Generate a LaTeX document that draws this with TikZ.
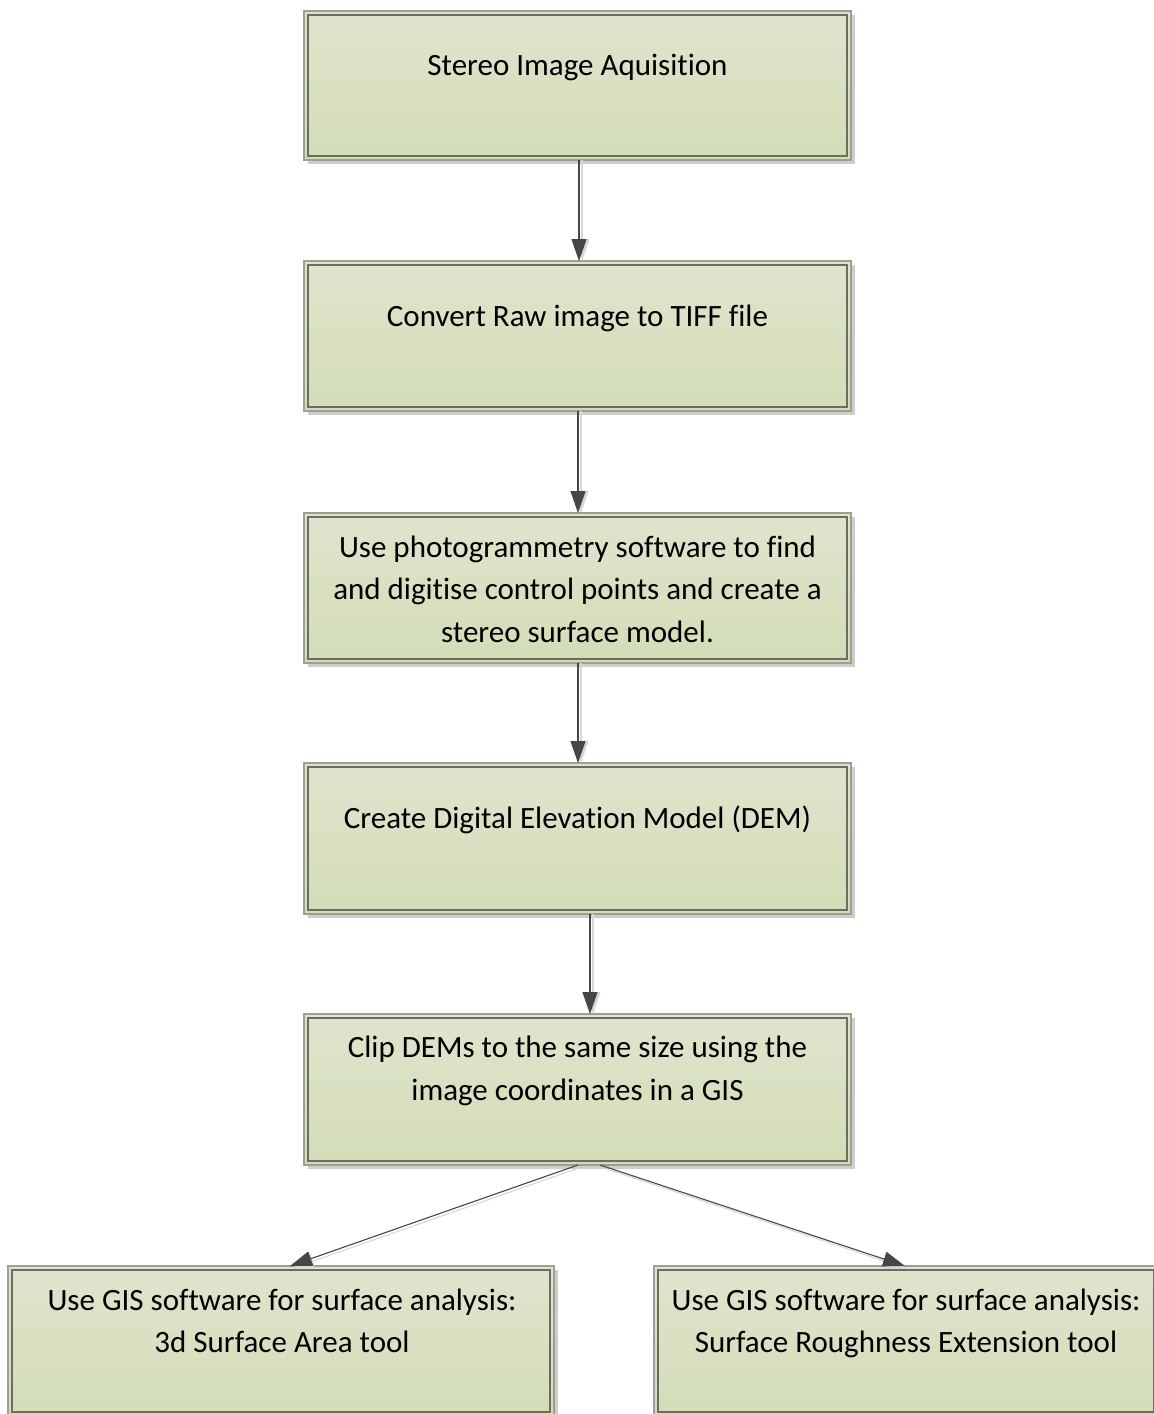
\documentclass[tikz,border=0pt]{standalone}
\usepackage{fontspec}
\setmainfont[Ligatures={NoCommon,NoRare,NoContextual}]{Carlito}
\usetikzlibrary{arrows.meta,shadows}

\definecolor{fillTop}{RGB}{223,229,205}
\definecolor{fillBot}{RGB}{211,220,183}
\definecolor{boxedge}{RGB}{155,160,145}
\definecolor{inneredge}{RGB}{105,110,98}
\definecolor{shadowgrey}{RGB}{205,205,205}
\definecolor{arrowdark}{RGB}{70,70,70}
\definecolor{arrowlight}{RGB}{215,215,215}

\tikzset{
  stepbox/.style={draw=boxedge, line width=1.2pt,
    top color=fillTop, bottom color=fillBot,
    minimum width=547pt, minimum height=150pt,
    inner sep=0pt, outer sep=0pt,
    drop shadow={shadow xshift=4pt, shadow yshift=-4pt,
      fill=shadowgrey, opacity=1}},
  innerline/.style={draw=inneredge, line width=1.1pt},
  steptext/.style={align=center, text=black, inner sep=0pt,
    font=\fontsize{31pt}{42.5pt}\selectfont},
  flow/.style={draw=arrowdark, line width=1.1pt,
    -{Triangle[length=22pt,width=15pt]}},
  flowshadow/.style={draw=arrowlight, line width=1.1pt,
    -{Triangle[length=22pt,width=15pt]}},
}

\begin{document}
\begin{tikzpicture}[x=1pt,y=-1pt]
  \useasboundingbox (0,0) rectangle (1154,1414);
  \fill[white] (0,0) rectangle (1154,1414);
  \clip (0,0) rectangle (1154,1414);

  % process boxes
  \node[stepbox, minimum height=149pt] (b1) at (577.5,85.5) {};
  \node[stepbox] (b2) at (577.5,336) {};
  \node[stepbox] (b3) at (577.5,588) {};
  \node[stepbox, minimum height=151pt] (b4) at (577.5,838.5) {};
  \node[stepbox, minimum height=151pt] (b5) at (577.5,1089.5) {};
  \node[stepbox, minimum width=546pt] (b6) at (281,1341) {};
  \node[stepbox, minimum width=504pt] (b7) at (906,1341) {};

  \foreach \n in {b1,b2,b3,b4,b5,b6,b7}
    \draw[innerline] ([shift={(4pt,-4pt)}]\n.north west)
      rectangle ([shift={(-4pt,4pt)}]\n.south east);

  % box labels
  \node[steptext] (t1) at (577.5,67) {Stereo Image Aquisition};
  \node[steptext] (t2) at (577.5,318) {Convert Raw image to TIFF file};
  \node[steptext] (t3) at (577.5,589) {Use photogrammetry software to find\\
    and digitise control points and create a\\ stereo surface model.};
  \node[steptext] (t4) at (577.5,820) {Create Digital Elevation Model (DEM)};
  \node[steptext] (t5) at (577.5,1071) {Clip DEMs to the same size using the\\
    image coordinates in a GIS};
  \node[steptext] (t6) at (282,1321) {Use GIS software for surface analysis:\\
    3d Surface Area tool};
  \node[steptext] (t7) at (906,1323.5) {Use GIS software for surface analysis:\\
    Surface Roughness Extension tool};

  % connector shadows
  \begin{scope}[transform canvas={xshift=3pt}]
    \draw[flowshadow] ([xshift=1.5pt]b1.south) -- ([xshift=1.5pt]b2.north);
    \draw[flowshadow] ([xshift=0.5pt]b2.south) -- ([xshift=0.5pt]b3.north);
    \draw[flowshadow] ([xshift=0.5pt]b3.south) -- ([xshift=0.5pt]b4.north);
    \draw[flowshadow] ([xshift=12.5pt]b4.south) -- ([xshift=12.5pt]b5.north);
  \end{scope}
  \begin{scope}[transform canvas={xshift=2pt,yshift=-2.5pt}]
    \draw[flowshadow] ([xshift=0.5pt]b5.south) -- ([xshift=9pt]b6.north);
    \draw[flowshadow] ([xshift=22.5pt]b5.south) -- ([xshift=-1pt]b7.north);
  \end{scope}

  % connectors
  \draw[flow] ([xshift=1.5pt]b1.south) -- ([xshift=1.5pt]b2.north);
  \draw[flow] ([xshift=0.5pt]b2.south) -- ([xshift=0.5pt]b3.north);
  \draw[flow] ([xshift=0.5pt]b3.south) -- ([xshift=0.5pt]b4.north);
  \draw[flow] ([xshift=12.5pt]b4.south) -- ([xshift=12.5pt]b5.north);
  \draw[flow] ([xshift=0.5pt]b5.south) -- ([xshift=9pt]b6.north);
  \draw[flow] ([xshift=22.5pt]b5.south) -- ([xshift=-1pt]b7.north);
\end{tikzpicture}
\end{document}
